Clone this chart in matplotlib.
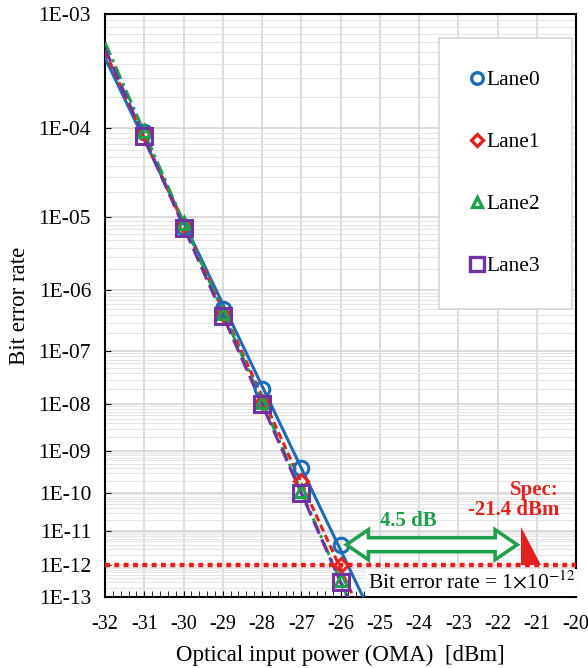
import numpy as np
import matplotlib
matplotlib.use("Agg")
import matplotlib.pyplot as plt
from matplotlib.lines import Line2D
from matplotlib.patches import Polygon
from matplotlib.ticker import FixedLocator, MultipleLocator

plt.rcParams['font.family'] = ['Liberation Serif', 'DejaVu Serif']
plt.rcParams['mathtext.fontset'] = 'stix'
plt.rcParams['axes.unicode_minus'] = False

# measured points (optical power in dBm, bit error rate)
power = [-31, -30, -29, -28, -27, -26]
lane0 = [9.3e-5, 7.5e-6, 5.0e-7, 2.0e-8, 3.9e-10, 4.0e-12]
lane1 = [9.0e-5, 8.0e-6, 4.2e-7, 1.1e-8, 2.0e-10, 1.0e-12]
lane2 = [9.5e-5, 8.5e-6, 4.3e-7, 1.1e-8, 1.1e-10, 3.5e-13]
lane3 = [8.3e-5, 7.2e-6, 3.9e-7, 1.0e-8, 1.0e-10, 3.0e-13]
lane_names = ["Lane0", "Lane1", "Lane2", "Lane3"]

ber_target = 1e-12
spec_power = -21.4
margin_db = 4.5
ytick_exp = list(range(3, 14))
x_ticks = list(range(-32, -19))

colors = ['#1c6cb6', '#e3221f', '#20a04c', '#7032a0']
markers = ['o', 'D', '^', 's']
msizes = [10.5, 7.5, 9, 12]
lstyles = ['-', (0, (2.4, 1.3)), (0, (4.5, 1.5, 1, 1.5)), (0, (4.5, 2))]


def fwd(v):
    v = np.clip(np.asarray(v, dtype=float), 1e-300, 0.999999)
    return -np.log10(-np.log10(v))


def inv(u):
    return 10.0 ** (-(10.0 ** (-np.asarray(u, dtype=float))))


fig = plt.figure(figsize=(5.88, 6.68), dpi=100)
ax = fig.add_axes([0.1786, 0.1063, 0.8010, 0.8727])
ax.set_yscale('function', functions=(fwd, inv))
ax.set_xlim(-32, -20)
ax.set_ylim(10.0 ** -13, 10.0 ** -3)

# grid
major_y = [10.0 ** -e for e in ytick_exp]
minor_y = [k * 10.0 ** -e for e in range(4, 14) for k in range(2, 10)]
ax.yaxis.set_major_locator(FixedLocator(major_y))
ax.yaxis.set_minor_locator(FixedLocator(minor_y))
ax.set_yticklabels(["1E-%02d" % e for e in ytick_exp])
ax.xaxis.set_major_locator(FixedLocator(x_ticks))
ax.xaxis.set_minor_locator(MultipleLocator(0.2))
ax.set_xticklabels([str(v) for v in x_ticks])
ax.grid(True, which='major', axis='both', color='#d6d6d6', lw=1.2, zorder=0)
ax.grid(True, which='minor', axis='y', color='#e4e4e4', lw=0.8, zorder=0)
ax.set_axisbelow(True)

ax.tick_params(axis='both', which='major', direction='in', length=4)
ax.tick_params(axis='x', which='major', pad=13, labelsize=14.5)
ax.tick_params(axis='y', which='major', pad=10, labelsize=15.5)
ax.tick_params(axis='y', which='minor', length=0)
ax.tick_params(axis='x', which='minor', direction='in', length=4)
for s in ax.spines.values():
    s.set_linewidth(1.5)
    s.set_color('black')

# data + linear trend lines in the transformed (Q-like) scale
xs = np.linspace(-32, -24.5, 300)
handles = []
for name, ys, c, m, ms, ls in zip(lane_names, [lane0, lane1, lane2, lane3],
                                  colors, markers, msizes, lstyles):
    coef = np.polyfit(power, fwd(ys), 1)
    ax.plot(xs, inv(np.polyval(coef, xs)), color=c, lw=2.2, ls=ls, zorder=3)
    ax.plot(power, ys, ls='none', marker=m, ms=ms, mfc='none', mec=c,
            mew=2.2, zorder=4)
    handles.append(Line2D([], [], ls='none', marker=m, ms=ms * 0.8,
                          mfc='none', mec=c, mew=2.4, label=name))

leg = ax.legend(handles=handles, loc='upper right',
                bbox_to_anchor=(0.992, 0.959), borderaxespad=0,
                fontsize=15.5, frameon=True,
                fancybox=False, framealpha=1, edgecolor='#d6d6d6',
                borderpad=1.5, labelspacing=1.95, handlelength=0.5,
                handletextpad=0.2)
leg.get_frame().set_linewidth(1.2)

# BER = 1e-12 reference line
ax.axhline(ber_target, color='#e3221f', lw=3.2, ls=(0, (1.1, 1.0)), zorder=5)
ax.text(-25.3, 3.0e-13, r"Bit error rate = 1$\times$10$^{-12}$", fontsize=15.5,
        ha='left', va='center', zorder=6,
        bbox=dict(boxstyle='square,pad=0.1', fc='white', ec='none'))

# spec marker triangle
tri_top = 1.26e-11
ax.add_patch(Polygon([(spec_power, tri_top), (spec_power, ber_target),
                      (spec_power + 0.5, ber_target)], closed=True,
                     fc='#e3221f', ec='none', zorder=6))
ax.text(-21.6, 6.5e-11, "Spec:\n-21.4 dBm", color='#e3221f', fontsize=15,
        fontweight='bold', ha='center', va='center', multialignment='right',
        linespacing=1.05, zorder=6)

# hollow double arrow showing the margin
arrow_y = 4.0e-12
x_left = spec_power - margin_db + 0.05
x_right = spec_power - 0.1
fig.canvas.draw()
(px_l, py), (px_r, _) = ax.transData.transform([(x_left, arrow_y),
                                                (x_right, arrow_y)])
head_len, head_h, shaft_h = 22, 15, 7
verts = [(px_l, py), (px_l + head_len, py + head_h),
         (px_l + head_len, py + shaft_h), (px_r - head_len, py + shaft_h),
         (px_r - head_len, py + head_h), (px_r, py),
         (px_r - head_len, py - head_h), (px_r - head_len, py - shaft_h),
         (px_l + head_len, py - shaft_h), (px_l + head_len, py - head_h)]
fig.patches.append(Polygon(verts, closed=True, fc='white', ec='#20a04c',
                           lw=2.6, joinstyle='miter', transform=None,
                           figure=fig, zorder=7))
ax.text((x_left + x_right) / 2 - 0.6, 1.8e-11, "%.1f dB" % margin_db,
        color='#20a04c', fontsize=15, fontweight='bold', ha='center',
        va='center', zorder=6)

ax.set_xlabel("Optical input power (OMA)  [dBm]", fontsize=16.5, labelpad=8)
ax.set_ylabel("Bit error rate", fontsize=16.5, labelpad=6)

fig.savefig("out.png", dpi=100)
